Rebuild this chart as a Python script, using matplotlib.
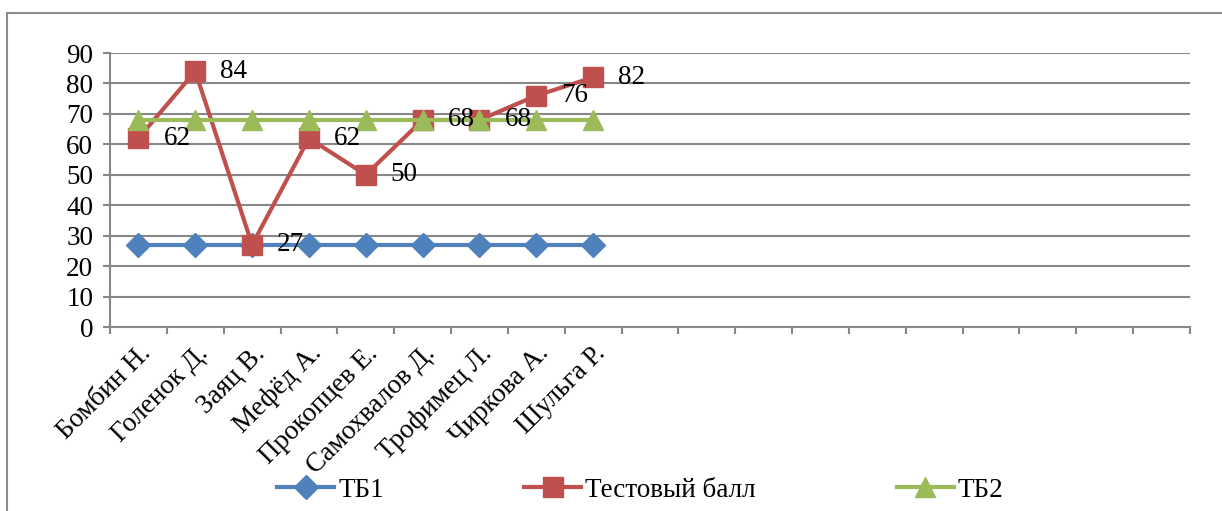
import matplotlib
matplotlib.use('Agg')
import matplotlib.pyplot as plt
from matplotlib.patches import Rectangle
import numpy as np

# values
names = ['Бомбин Н.', 'Голенок Д.', 'Заяц В.', 'Мефёд А.', 'Прокопцев Е.',
         'Самохвалов Д.', 'Трофимец Л.', 'Чиркова А.', 'Шульга Р.']
n_slots = 19  # axis has empty category slots after the names
tb1 = [27, 27, 27, 27, 27, 27, 27, 27, 27]
test_score = [62, 84, 27, 62, 50, 68, 68, 76, 82]
tb2 = [68, 68, 68, 68, 68, 68, 68, 68, 68]
yticks = [0, 10, 20, 30, 40, 50, 60, 70, 80, 90]

FS = 19.5
plt.rcParams['font.family'] = ['Liberation Serif', 'DejaVu Serif']
plt.rcParams['font.size'] = FS

BLUE = '#4F81BD'
RED = '#C0504D'
GREEN = '#9BBB59'
GRAY = '#878787'

fig = plt.figure(figsize=(12.22, 5.11), dpi=100)
fig.patches.append(Rectangle((7 / 1222, -0.1), 1.2, 1 - 13 / 511 + 0.1,
                             transform=fig.transFigure, fill=False,
                             edgecolor='#8c8c8c', linewidth=1.5))

ax = fig.add_axes([110 / 1222, 1 - 327 / 511, 1080 / 1222, 274 / 511])

x = np.arange(len(names))
ax.plot(x, tb1, color=BLUE, lw=3, marker='D', ms=12, label='ТБ1', zorder=3)
ax.plot(x, test_score, color=RED, lw=3, marker='s', ms=14, label='Тестовый балл', zorder=4)
ax.plot(x, tb2, color=GREEN, lw=3, marker='^', ms=14, label='ТБ2', zorder=5)

for xi, v in zip(x, test_score):
    ax.annotate(str(v), (xi, v), xytext=(18, 0), textcoords='offset points',
                ha='left', va='center', fontsize=FS, zorder=6)

ax.set_xlim(-0.5, n_slots - 0.5)
ax.set_ylim(0, 90)
ax.set_yticks(yticks)
ax.yaxis.grid(True, color=GRAY, lw=1.5)
ax.set_axisbelow(True)

ax.set_xticks(np.arange(n_slots + 1) - 0.5)
ax.set_xticklabels([])
ax.set_xticks(x, minor=True)
ax.set_xticklabels(names, minor=True, rotation=45, ha='right', va='top',
                   rotation_mode='anchor')
ax.tick_params(axis='x', which='major', length=5, width=1.5, color=GRAY)
ax.tick_params(axis='x', which='minor', length=0, pad=10)
ax.tick_params(axis='y', length=5, width=1.5, color=GRAY, pad=7)

for s in ['top', 'right']:
    ax.spines[s].set_visible(False)
for s in ['left', 'bottom']:
    ax.spines[s].set_color(GRAY)
    ax.spines[s].set_linewidth(1.5)

fig.legend(loc='center', bbox_to_anchor=(0.524, 0.041), ncol=3, frameon=False,
           handlelength=2.1, handletextpad=0.15, columnspacing=5.2,
           fontsize=FS, borderpad=0)

fig.savefig('out.png', dpi=100)
